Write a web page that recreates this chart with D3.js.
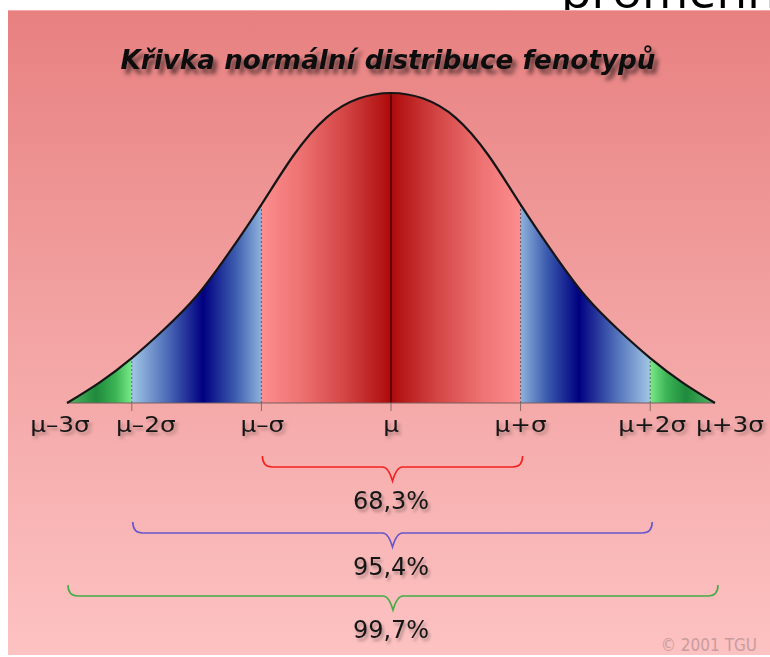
<!DOCTYPE html>
<html>
<head>
<meta charset="utf-8">
<script src="https://cdn.jsdelivr.net/npm/d3@7"></script>
<style>
body{margin:0;background:#fff;overflow:hidden}
text{font-family:"DejaVu Sans",sans-serif}
</style>
</head>
<body>
<svg id="chart"></svg>
<script>
//curve samples: position in sigma units and relative height
var zs = [-2.5,-2.25,-2,-1.75,-1.5,-1.25,-1,-0.75,-0.5,-0.25,0,0.25,0.5,0.75,1,1.25,1.5,1.75,2,2.25,2.5]
var heights = [0,0.066,0.145,0.238,0.345,0.485,0.64,0.8,0.92,0.982,1,0.982,0.92,0.8,0.64,0.485,0.345,0.238,0.145,0.066,0]

//coloured bands under the curve
var bandEdges = [-2.5,-2,-1,0,1,2,2.5]

//axis ticks
var tickValues = [-2.5,-2,-1,0,1,2,2.5]
var tickLabels = ["μ–3σ","μ–2σ","μ–σ","μ","μ+σ","μ+2σ","μ+3σ"]

//braces
var ranges = [[-1,1],[-2,2],[-2.5,2.5]]
var rangeLabels = ["68,3%","95,4%","99,7%"]

var W = 770, H = 657

var svg = d3.select('#chart')
	.attr('width',W)
	.attr('height',H)

var defs = svg.append('defs')

//background gradient
var bg = defs.append('linearGradient').attr('id','bg')
	.attr('x1',0).attr('y1',0).attr('x2',0).attr('y2',1)
bg.append('stop').attr('offset',0).attr('stop-color','#e88080')
bg.append('stop').attr('offset',0.45).attr('stop-color','#f2a0a0')
bg.append('stop').attr('offset',1).attr('stop-color','#fdc2c2')

//band gradients (left to right = outer to inner)
function grad(id, stops, flip) {
	var g = defs.append('linearGradient').attr('id',id)
		.attr('x1',flip ? 1 : 0).attr('x2',flip ? 0 : 1).attr('y1',0).attr('y2',0)
	stops.forEach(function(s){
		g.append('stop').attr('offset',s[0]).attr('stop-color',s[1])
	})
}
var greenStops = [[0,'#52b866'],[0.45,'#1f8a3c'],[0.75,'#3cb456'],[1,'#7aea88']]
var blueStops = [[0,'#a2c6e6'],[0.25,'#5474bc'],[0.55,'#000080'],[0.8,'#3c5cae'],[1,'#8eb2dc']]
var redStops = [[0,'#fd8e8e'],[0.3,'#ee7272'],[0.65,'#d34444'],[1,'#ad0a0a']]
grad('gL',greenStops,false)
grad('bL',blueStops,false)
grad('rL',redStops,false)
grad('rR',redStops,true)
grad('bR',blueStops,true)
grad('gR',greenStops,true)
var bandFills = ['gL','bL','rL','rR','bR','gR']

//shadows
var f1 = defs.append('filter').attr('id','shadowBig')
	.attr('x','-10%').attr('y','-40%').attr('width','120%').attr('height','200%')
f1.append('feDropShadow').attr('dx',4).attr('dy',5).attr('stdDeviation',2.2)
	.attr('flood-color','#000').attr('flood-opacity',0.55)
var f2 = defs.append('filter').attr('id','shadowSmall')
	.attr('x','-20%').attr('y','-40%').attr('width','140%').attr('height','200%')
f2.append('feDropShadow').attr('dx',2).attr('dy',3).attr('stdDeviation',1.6)
	.attr('flood-color','#000').attr('flood-opacity',0.3)

//text sitting in the white strip above the picture (cut off there too)
svg.append('text')
	.attr('x',561).attr('y',8)
	.style('font-family','"Open Sans",sans-serif')
	.style('font-size','50px')
	.attr('fill','#000')
	.text('proměnných')

//panel
svg.append('rect')
	.attr('x',8).attr('y',10)
	.attr('width',W-8).attr('height',H-12)
	.attr('fill','url(#bg)')
svg.append('line')
	.attr('x1',8).attr('x2',W).attr('y1',10.5).attr('y2',10.5)
	.attr('stroke','#f3a9a9').attr('stroke-width',1)

//title
svg.append('text')
	.attr('x',388).attr('y',69)
	.attr('text-anchor','middle')
	.attr('textLength',535).attr('lengthAdjust','spacingAndGlyphs')
	.style('font-size','26px').style('font-weight','bold').style('font-style','italic')
	.attr('fill','#111')
	.attr('filter','url(#shadowBig)')
	.text('Křivka normální distribuce fenotypů')

//scales
var x = d3.scaleLinear().domain([-2.5,2.5]).range([67,715])
var y = d3.scaleLinear().domain([0,1]).range([403,93])

var pts = zs.map(function(z,i){ return {z:z, h:heights[i]} })

var area = d3.area()
	.x(function(d){ return x(d.z) })
	.y0(y(0))
	.y1(function(d){ return y(d.h) })
	.curve(d3.curveNatural)

var line = d3.line()
	.x(function(d){ return x(d.z) })
	.y(function(d){ return y(d.h) })
	.curve(d3.curveNatural)

defs.append('clipPath').attr('id','under')
	.append('path').attr('d',area(pts))

var g = svg.append('g')

//bands
g.append('g').attr('clip-path','url(#under)')
	.selectAll('rect')
	.data(d3.pairs(bandEdges))
	.enter()
	.append('rect')
	.attr('x',function(d){ return x(d[0]) })
	.attr('width',function(d){ return x(d[1]) - x(d[0]) })
	.attr('y',y(1) - 4)
	.attr('height',y(0) - y(1) + 4)
	.attr('fill',function(d,i){ return 'url(#' + bandFills[i] + ')' })

//height of the curve at a given edge
function hAt(z) {
	return heights[zs.indexOf(z)]
}

//dotted dividers
g.selectAll('.divider')
	.data([-2,-1,1,2])
	.enter()
	.append('line')
	.attr('class','divider')
	.attr('x1',function(d){ return x(d) }).attr('x2',function(d){ return x(d) })
	.attr('y1',y(0)).attr('y2',function(d){ return y(hAt(d)) })
	.attr('stroke','#3a3a55').attr('stroke-width',1)
	.attr('stroke-dasharray','2,2').attr('opacity',0.7)

g.append('line')
	.attr('x1',x(0)).attr('x2',x(0))
	.attr('y1',y(0)).attr('y2',y(1))
	.attr('stroke','#3a0000').attr('stroke-width',1.3)

//baseline and ticks
g.append('line')
	.attr('x1',x(-2.5)).attr('x2',x(2.5))
	.attr('y1',y(0)).attr('y2',y(0))
	.attr('stroke','#7a5c5c').attr('stroke-width',1)

g.selectAll('.tick')
	.data([-2,-1,0,1,2])
	.enter()
	.append('line')
	.attr('class','tick')
	.attr('x1',function(d){ return x(d) }).attr('x2',function(d){ return x(d) })
	.attr('y1',y(0)).attr('y2',y(0) + 8)
	.attr('stroke','#8a6a6a').attr('stroke-width',1)

//curve outline
g.append('path')
	.attr('d',line(pts))
	.attr('fill','none')
	.attr('stroke','#151515')
	.attr('stroke-width',2.2)

//tick labels (outer ones pushed out so they don't collide)
var labelShift = [-7,14,1,0,0,2,15]
g.selectAll('.lab')
	.data(tickValues)
	.enter()
	.append('text')
	.attr('class','lab')
	.attr('transform',function(d,i){
		return 'translate(' + (x(d) + labelShift[i]) + ',432) scale(1.18,1)'
	})
	.attr('text-anchor','middle')
	.style('font-size','21px')
	.attr('fill','#151515')
	.attr('filter','url(#shadowSmall)')
	.text(function(d,i){ return tickLabels[i] })

//braces
var braceColors = ['#f52020','#6656cc','#44ac44']
var braceY = [456,522,585]
function brace(x0, x1, top) {
	var mid = (x0 + x1) / 2, hy = top + 11, tip = top + 25
	return 'M' + x0 + ',' + top +
		' Q' + x0 + ',' + hy + ' ' + (x0 + 10) + ',' + hy +
		' L' + (mid - 10) + ',' + hy +
		' Q' + (mid - 4) + ',' + hy + ' ' + mid + ',' + tip +
		' Q' + (mid + 4) + ',' + hy + ' ' + (mid + 10) + ',' + hy +
		' L' + (x1 - 10) + ',' + hy +
		' Q' + x1 + ',' + hy + ' ' + x1 + ',' + top
}
g.selectAll('.brace')
	.data(ranges)
	.enter()
	.append('path')
	.attr('class','brace')
	.attr('d',function(d,i){
		return brace(x(d[0]) + 1, x(d[1]) + (i == 2 ? 3 : 2), braceY[i])
	})
	.attr('fill','none')
	.attr('stroke',function(d,i){ return braceColors[i] })
	.attr('stroke-width',1.6)

g.selectAll('.pct')
	.data(rangeLabels)
	.enter()
	.append('text')
	.attr('class','pct')
	.attr('x',x(0))
	.attr('y',function(d,i){ return braceY[i] + 53 })
	.attr('text-anchor','middle')
	.style('font-size','24px')
	.attr('fill','#151515')
	.attr('filter','url(#shadowSmall)')
	.text(function(d){ return d })

//copyright
svg.append('text')
	.attr('transform','translate(757,651) scale(0.85,1)')
	.attr('text-anchor','end')
	.style('font-size','18px')
	.attr('fill','#c99c9c')
	.text('© 2001 TGU')
</script>
</body>
</html>
